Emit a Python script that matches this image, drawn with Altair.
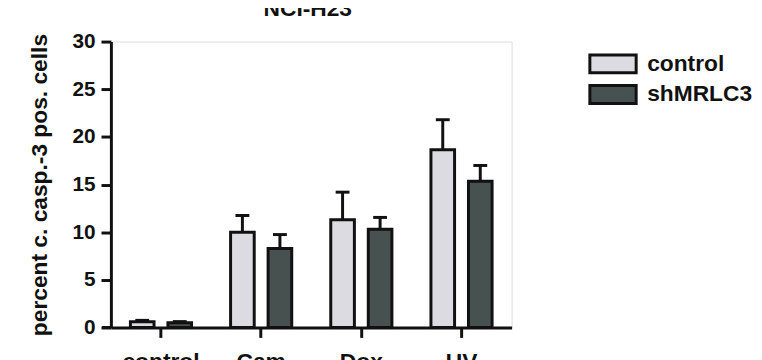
import altair as alt
import pandas as pd

treatments = ["control", "Cam", "Dox", "UV"]
groups = ["control", "shMRLC3"]
ctrl_mean = [0.6, 10.0, 11.3, 18.65]
ctrl_err = [0.15, 1.75, 2.9, 3.15]
sh_mean = [0.5, 8.3, 10.3, 15.35]
sh_err = [0.12, 1.45, 1.25, 1.65]
y_ticks = [0, 5, 10, 15, 20, 25, 30]
colors = ["#dcdbe1", "#465150"]

rows = []
for i, t in enumerate(treatments):
    rows.append({"treatment": t, "group": groups[0], "mean": ctrl_mean[i], "hi": ctrl_mean[i] + ctrl_err[i]})
    rows.append({"treatment": t, "group": groups[1], "mean": sh_mean[i], "hi": sh_mean[i] + sh_err[i]})
df = pd.DataFrame(rows)

FONT = "Liberation Sans"
INK = "#111111"

x_enc = alt.X(
    "treatment:N", sort=treatments, title=None,
    scale=alt.Scale(paddingInner=0, paddingOuter=0),
    axis=alt.Axis(labelAngle=0, labelFontSize=23, labelFont=FONT, labelFontWeight="bold",
                  labelColor=INK, labelPadding=13, tickSize=10, tickWidth=3, tickColor=INK,
                  domainWidth=3, domainColor=INK, grid=False),
)
xo_enc = alt.XOffset("group:N", sort=groups,
                     scale=alt.Scale(paddingInner=0.37, paddingOuter=0.52))
y_scale = alt.Scale(domain=[0, 30], nice=False)

bars = alt.Chart(df).mark_bar(stroke=INK, strokeWidth=3).encode(
    x=x_enc,
    xOffset=xo_enc,
    y=alt.Y("mean:Q", scale=y_scale, title="percent c. casp.-3 pos. cells",
            axis=alt.Axis(values=y_ticks, labelFontSize=21, labelFont=FONT, labelFontWeight="bold",
                          labelColor=INK, labelPadding=6, tickSize=10, tickWidth=3, tickColor=INK,
                          domainWidth=3, domainColor=INK, grid=False,
                          titleFontSize=23, titleFont=FONT, titleFontWeight="bold",
                          titleColor=INK, titlePadding=21)),
    color=alt.Color("group:N", sort=groups,
                    scale=alt.Scale(domain=groups, range=colors),
                    legend=alt.Legend(orient="none", legendX=496, legendY=11, title=None,
                                      symbolType="M-2.6,-1L2.6,-1L2.6,1L-2.6,1Z",
                                      symbolSize=324, symbolStrokeColor=INK, symbolStrokeWidth=3,
                                      symbolOpacity=1,
                                      labelFontSize=23, labelFont=FONT, labelFontWeight="bold",
                                      labelColor=INK, labelOffset=23, rowPadding=0, padding=0)),
)

err = alt.Chart(df).mark_rule(color=INK, strokeWidth=3).encode(
    x=alt.X("treatment:N", sort=treatments),
    xOffset=xo_enc,
    y=alt.Y("mean:Q", scale=y_scale),
    y2="hi:Q",
)

caps = alt.Chart(df).mark_tick(color=INK, thickness=3, size=14, orient="horizontal", opacity=1).encode(
    x=alt.X("treatment:N", sort=treatments),
    xOffset=xo_enc,
    y=alt.Y("hi:Q", scale=y_scale),
)

axis_ext = alt.Chart(pd.DataFrame({"a": [0]})).mark_rule(color=INK, strokeWidth=3).encode(
    x=alt.value(-9), x2=alt.value(0), y=alt.value(289)
)

title_txt = alt.Chart(pd.DataFrame({"t": ["NCI-H23"]})).mark_text(
    font=FONT, fontSize=23, fontWeight="bold", color=INK, baseline="alphabetic", align="center"
).encode(text="t:N", x=alt.value(199), y=alt.value(-26))

chart = alt.layer(bars, err, caps, axis_ext, title_txt).properties(
    width=405, height=289,
    autosize=alt.AutoSizeParams(type="none"),
    padding={"left": 104, "top": 32, "right": 245, "bottom": 40},
).configure_view(stroke=None).configure(background="white")

chart.save("out.html", embed_options={"renderer": "svg", "actions": False})
